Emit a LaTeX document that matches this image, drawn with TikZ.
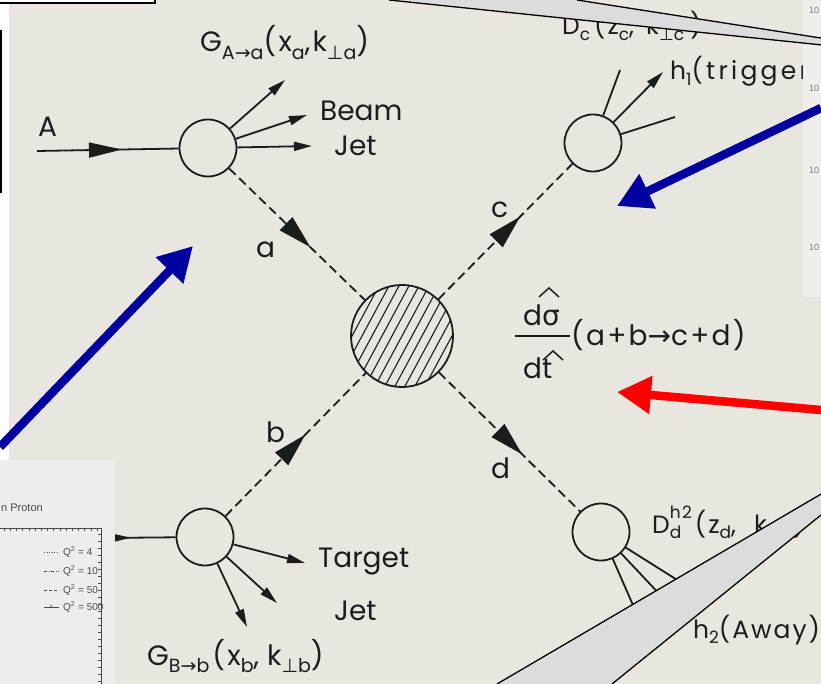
\documentclass[tikz,border=0pt]{standalone}
\usepackage{fontspec}
\usepackage{graphicx}
\setmainfont{Poppins}
\newfontfamily\dvs{DejaVu Sans}
\newfontfamily\lsans{Liberation Sans}
\usetikzlibrary{arrows.meta,decorations.markings}
\definecolor{bgc}{HTML}{E8E6DF}
\definecolor{inkc}{HTML}{1C1C1C}
\definecolor{wedgec}{HTML}{DCDCDC}
\definecolor{insetc}{HTML}{EEEDE9}
\definecolor{stripc}{HTML}{EFEEEB}
\definecolor{navyc}{RGB}{0,0,160}
\definecolor{greyt}{HTML}{4A4A4A}
\newcommand{\lo}[1]{\raisebox{-0.28em}{\fontsize{19}{19}\selectfont #1}}
\newcommand{\loD}[1]{\raisebox{-0.22em}{\fontsize{17}{17}\selectfont #1}}
\newcommand{\hiD}[1]{\raisebox{0.6em}{\fontsize{17}{17}\selectfont #1}}
\newcommand{\perpsym}{{\dvs ⊥}}
\newcommand{\rarr}{{\dvs →}}
\tikzset{
 lbl/.style={anchor=base west, inner sep=0pt, font=\fontsize{28}{30}\selectfont, text=inkc},
 lblS/.style={anchor=base west, inner sep=0pt, font=\fontsize{25}{27}\selectfont, text=inkc},
 spaced/.style={font=\fontsize{#1}{30}\selectfont\addfontfeatures{LetterSpace=8}},
 wide/.style={font=\fontsize{#1}{30}\selectfont\addfontfeatures{LetterSpace=13}},
 ink/.style={draw=inkc, line width=1.8pt},
 vtx/.style={circle, draw=inkc, line width=1.8pt, minimum size=57pt, inner sep=0pt},
 prop/.style={draw=inkc, line width=1.8pt, dash pattern=on 9pt off 5pt, postaction={decorate},
   decoration={markings, mark=at position #1 with {\arrow[inkc]{Triangle[length=34pt,width=18pt]}}}},
 feed/.style={draw=inkc, line width=1.8pt, postaction={decorate},
   decoration={markings, mark=at position #1 with {\arrow[inkc]{Triangle[length=33pt,width=15pt]}}}},
 outarr/.style={draw=inkc, line width=1.8pt, -{Triangle[length=18pt,width=9pt]}},
 bigarr/.style={line width=8.5pt, -{Triangle[length=34pt,width=36pt]}},
 tiny/.style={inner sep=0pt, font=\lsans\fontsize{10}{10}\selectfont, text=greyt},
}
\begin{document}
\begin{tikzpicture}[x=1pt,y=-1pt]
\useasboundingbox (0,0) rectangle (821,684);
\fill[bgc] (0,0) rectangle (821,684);
% left white strip and box edges
\fill[white!97!bgc] (0,0) rectangle (9,460);
\draw[black, line width=1.6pt] (0.8,30) -- (0.8,193);
\draw[black, fill=white, line width=1.2pt] (-3,-5) rectangle (155,3);

% vertices
\node[vtx] (A) at (208,148) {};
\node[vtx] (C) at (593,143) {};
\node[vtx] (B) at (205,537) {};
\node[vtx] (D) at (601,532) {};
\node[circle, draw=inkc, line width=1.8pt, minimum size=102pt, inner sep=0pt,
  path picture={\foreach \k in {-8,...,8}{\draw[inkc, line width=1.1pt]
   ([xshift=\k*10pt]path picture bounding box.center) ++(-35pt,-65pt) -- ++(70pt,130pt);}}] (X) at (402,336) {};

% incoming lines
\coordinate (Ain) at (37,151);
\coordinate (Bin) at (0,539);
\draw[feed=0.6] (Ain) -- (A);
\draw[feed=0.745] (Bin) -- (B);

% propagators
\draw[prop=0.6] (A) -- (X);
\draw[prop=0.57] (B) -- (X);
\draw[prop=0.61] (X) -- (C);
\draw[prop=0.59] (X) -- (D);

% beam jet
\coordinate (a1) at (285,80);
\coordinate (a2) at (307,115);
\coordinate (a3) at (312,146);
\draw[outarr] (A) -- (a1);
\draw[outarr] (A) -- (a2);
\draw[outarr] (A) -- (a3);
% target jet
\coordinate (b1) at (305,563);
\coordinate (b2) at (277,603);
\coordinate (b3) at (247,627);
\draw[outarr] (B) -- (b1);
\draw[outarr] (B) -- (b2);
\draw[outarr] (B) -- (b3);
% trigger side
\coordinate (c1) at (620,70);
\coordinate (c2) at (663,72);
\coordinate (c3) at (675,117);
\draw[ink] (C) -- (c1);
\draw[outarr] (C) -- (c2);
\draw[ink] (C) -- (c3);
% away side
\coordinate (d1) at (690,588);
\coordinate (d2) at (665,600);
\coordinate (d3) at (636,612);
\draw[ink] (D) -- (d1);
\draw[ink] (D) -- (d2);
\draw[ink] (D) -- (d3);

% labels
\node[lbl] (tA) at (38,137) {A};
\node[lbl, spaced=28] (tGa) at (200,52) {G\lo{A\rarr a}(x\lo{a},k\lo{\perpsym a})};
\node[lbl] (tBeam) at (320,121) {Beam};
\node[lbl] (tJet1) at (334,156) {Jet};
\node[lbl] (ta) at (256,258) {a};
\node[lbl] (tc) at (491,218) {c};
\node[lbl] (tb) at (266,442) {b};
\node[lbl] (td) at (491,478) {d};
\node[lbl] (tTarget) at (318,567) {Target};
\node[lbl] (tJet2) at (334,620) {Jet};
\node[lbl, spaced=28] (tGb) at (147,665) {G\lo{B\rarr b}\hspace{3pt}(x\lo{b},\hspace{8pt}k\lo{\perpsym b})};
\node[lblS, spaced=25] (tDc) at (562,35) {D\loD{c}\hspace{4pt}(z\loD{c},\hspace{12pt}k\loD{\perpsym c}\hspace{6pt})};
\node[lblS, wide=25] (th1) at (670,80) {h\loD{1}(trigger};
\node[lblS, spaced=25] (tDd) at (652,533) {D\rlap{\loD{d}}\hiD{h2}\hspace{3pt}(z\loD{d},\hspace{18pt}k\loD{\perpsym d})};
\node[lblS, spaced=25] (th2) at (693,638) {h\loD{2}(Away)};
% cross section
\node[lbl] (num) at (523,325) {d{\dvs σ}};
\node[lbl] (den) at (523,378) {dt};
\draw[ink] (515,336) -- (570,336);
\draw[inkc, line width=1.5pt] (539,297) -- (549,288) -- (559,297);
\draw[inkc, line width=1.5pt] (543,360) -- (553,351) -- (563,360);
\node[lbl, spaced=28] (proc) at (571,345) {(a+b\rarr c+d)};

% inset plot (bottom left)
\fill[insetc] (0,460) rectangle (115,684);
\node[tiny, anchor=base west, font=\lsans\fontsize{11}{11}\selectfont] (tprot) at (1,511) {n Proton};
\draw[greyt, line width=0.7pt] (0,528) -- (101,528) -- (101,684);
\foreach \t in {0,...,15} \draw[greyt, line width=0.6pt] ({4+\t*6.2},528) -- ++(0,3);
\foreach \t in {0,...,21} \draw[greyt, line width=0.6pt] (101,{534+\t*7}) -- ++(-3,0);
\draw[greyt, line width=0.6pt, dotted] (44,552) -- (59,552);
\draw[greyt, line width=0.6pt, dash pattern=on 3pt off 1.5pt on 1pt off 1.5pt] (44,571) -- (59,571);
\draw[greyt, line width=0.6pt, dash pattern=on 3pt off 2pt] (44,590) -- (59,590);
\draw[greyt, line width=0.6pt] (44,607) -- (59,607);
\node[tiny, font=\lsans\fontsize{6}{6}\selectfont] (xm) at (51.5,607) {×};
\node[tiny, anchor=west] (q1) at (63,552) {Q\textsuperscript{2} = 4};
\node[tiny, anchor=west] (q2) at (63,571) {Q\textsuperscript{2} = 10};
\node[tiny, anchor=west] (q3) at (63,590) {Q\textsuperscript{2} = 50};
\node[tiny, anchor=west] (q4) at (63,607) {Q\textsuperscript{2} = 500};

% right strip
\fill[stripc] (803,0) rectangle (821,297);
\foreach \yy/\nm in {10/r1,88/r2,170/r3,247/r4} \node[tiny, font=\lsans\fontsize{9}{9}\selectfont, text=gray] (\nm) at (814,\yy) {10};

% grey callout wedges
\draw[fill=wedgec, draw=black, line width=1.3pt] (389,0) -- (952,58.5) -- (577,0);
\draw[fill=wedgec, draw=black, line width=1.3pt] (497,684) -- (915,439) -- (612,684);

% overlay arrows
\coordinate (bl1s) at (0,447);
\coordinate (bl1e) at (193,246);
\coordinate (bl2s) at (821,108);
\coordinate (bl2e) at (617,206);
\coordinate (rds) at (821,410);
\coordinate (rde) at (617,392);
\draw[bigarr, navyc] (bl1s) -- (bl1e);
\draw[bigarr, navyc] (bl2s) -- (bl2e);
\draw[bigarr, red] (rds) -- (rde);
\end{tikzpicture}
\end{document}
